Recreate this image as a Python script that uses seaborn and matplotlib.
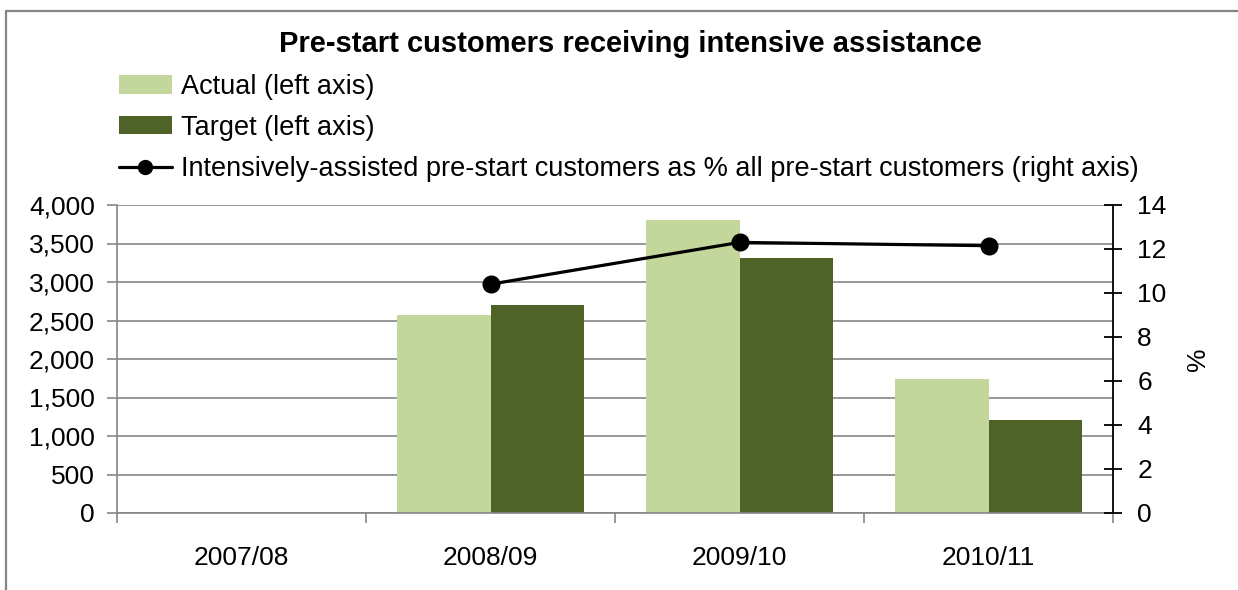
import numpy as np
import pandas as pd
import matplotlib
matplotlib.use("Agg")
import matplotlib.pyplot as plt
from matplotlib.patches import Patch
from matplotlib.lines import Line2D
import seaborn as sns

# ---- data -------------------------------------------------------------
categories = ["2007/08", "2008/09", "2009/10", "2010/11"]
actual = [np.nan, 2575, 3810, 1745]          # customers (left axis)
target = [np.nan, 2695, 3315, 1205]          # customers (left axis)
pct_intensive = [np.nan, 10.4, 12.3, 12.15]  # % of all pre-start customers (right axis)

series_names = ["Actual (left axis)", "Target (left axis)"]
line_name = ("Intensively-assisted pre-start customers as % all "
             "pre-start customers (right axis)")

# ---- styling ----------------------------------------------------------
sns.set_theme(style="white")
plt.rcParams["font.family"] = ["Liberation Sans", "DejaVu Sans"]
plt.rcParams["text.color"] = "black"
plt.rcParams["axes.labelcolor"] = "black"
FS = 19
FS_LEG = 19.5
FS_TITLE = 21
COL_ACTUAL = "#C3D69B"
COL_TARGET = "#4F6228"
GRID = "#868686"

long_df = pd.DataFrame({
    "year": categories * 2,
    "series": [series_names[0]] * len(categories) + [series_names[1]] * len(categories),
    "value": actual + target,
}).dropna()

fig = plt.figure(figsize=(12.38, 5.9), dpi=100)
ax = fig.add_axes([117 / 1238, 1 - 513 / 590, (1113 - 117) / 1238, (513 - 205) / 590])

sns.barplot(data=long_df, x="year", y="value", hue="series",
            order=categories, hue_order=series_names,
            palette=[COL_ACTUAL, COL_TARGET], width=0.75,
            saturation=1, linewidth=0, legend=False, ax=ax)

ax.set_ylim(0, 4000)
ax.set_yticks(np.arange(0, 4001, 500))
ax.set_yticklabels([f"{v:,}" for v in range(0, 4001, 500)])
ax.set_xlim(-0.5, len(categories) - 0.5)
ax.set_xticks(np.arange(len(categories)))
ax.set_xticklabels(categories)
ax.set_xticks(np.arange(len(categories) + 1) - 0.5, minor=True)
ax.set_xlabel("")
ax.set_ylabel("")
ax.set_axisbelow(True)
ax.yaxis.grid(True, color=GRID, linewidth=1.2)
ax.xaxis.grid(False)

for side in ("top", "right"):
    ax.spines[side].set_visible(False)
for side in ("left", "bottom"):
    ax.spines[side].set_color(GRID)
    ax.spines[side].set_linewidth(1.2)

ax.tick_params(axis="y", which="major", direction="out", length=7,
               width=1.2, color=GRID, labelcolor="black", labelsize=FS,
               pad=9, left=True)
ax.tick_params(axis="x", which="major", length=0, labelsize=FS,
               labelcolor="black", pad=24)
ax.tick_params(axis="x", which="minor", direction="out", length=7,
               width=1.2, color=GRID, bottom=True)

# ---- right axis: percentage line -------------------------------------
ax2 = ax.twinx()
positions = np.arange(len(categories))
sns.lineplot(x=positions, y=pct_intensive, color="black", linewidth=2.3,
             marker="o", markersize=13, markeredgewidth=0, ax=ax2)
ax2.set_xlim(-0.5, len(categories) - 0.5)
ax2.set_ylim(0, 14)
ax2.set_yticks(np.arange(0, 15, 2))
ax2.set_ylabel("%", fontsize=FS, labelpad=14, color="black")
ax2.grid(False)
for side in ("top", "left", "bottom"):
    ax2.spines[side].set_visible(False)
ax2.spines["right"].set_color("black")
ax2.spines["right"].set_linewidth(1.3)
ax2.tick_params(axis="y", direction="inout", length=13, width=1.3,
                color="black", labelcolor="black", labelsize=FS, pad=11,
                right=True)

# ---- title and legend --------------------------------------------------
fig.text(0.509, 1 - 44 / 590, "Pre-start customers receiving intensive assistance",
         ha="center", va="center", fontsize=FS_TITLE, fontweight="bold",
         color="black")

handles = [
    Patch(facecolor=COL_ACTUAL, edgecolor="none"),
    Patch(facecolor=COL_TARGET, edgecolor="none"),
    Line2D([0], [0], color="black", linewidth=2.3, marker="o",
           markersize=11, markeredgewidth=0),
]
fig.legend(handles, series_names + [line_name], loc="upper left",
           bbox_to_anchor=(119 / 1238, 1 - 74 / 590), frameon=False,
           fontsize=FS_LEG, handlelength=1.95, handleheight=0.65,
           handletextpad=0.33, labelspacing=0.55, borderpad=0,
           borderaxespad=0, labelcolor="black")

# outer frame (top and left edges)
fig.add_artist(Line2D([6 / 1238, 6 / 1238, 1.01], [-0.01, 1 - 11 / 590, 1 - 11 / 590],
                      transform=fig.transFigure, color=GRID, linewidth=1.6))

fig.savefig("out.png", dpi=100)
